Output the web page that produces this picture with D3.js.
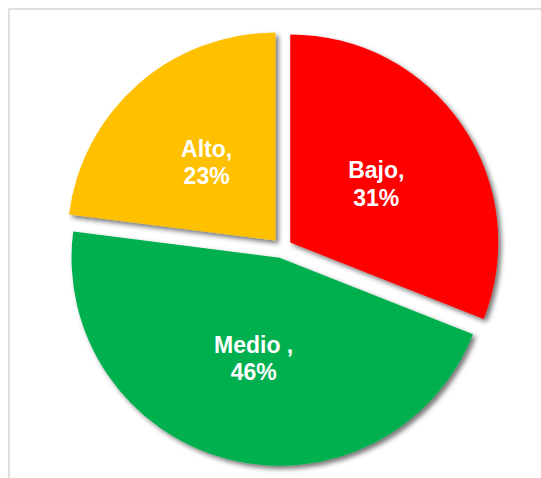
<!DOCTYPE html>
<html>
<head>
<meta charset="utf-8">
<script src="https://cdn.jsdelivr.net/npm/d3@7"></script>
<style>
  html, body { margin: 0; padding: 0; background: #ffffff; }
  svg { display: block; }
</style>
</head>
<body>
<script>
// Risk levels and their shares (%)
const categories = ["Bajo", "Medio", "Alto"];
const labelNames = ["Bajo,", "Medio ,", "Alto,"];
const values = [31, 46, 23];
const colors = ["#ff0000", "#00b050", "#ffc000"];

const width = 541, height = 478;
const cx = 282, cy = 248;      // pie centre
const radius = 208;
const explode = 10;            // distance each slice is pulled out
const fontSize = 23, lineGap = 27.5;

const svg = d3.select("body").append("svg")
  .attr("width", width)
  .attr("height", height);

// chart area frame
svg.append("rect")
  .attr("x", 9).attr("y", 9)
  .attr("width", 700).attr("height", 700)
  .attr("fill", "none")
  .attr("stroke", "#d9d9d9")
  .attr("stroke-width", 1.6);

const defs = svg.append("defs");
const shadow = defs.append("filter")
  .attr("id", "slice-shadow")
  .attr("x", "-20%").attr("y", "-20%")
  .attr("width", "140%").attr("height", "140%");
shadow.append("feDropShadow")
  .attr("dx", 3).attr("dy", 3)
  .attr("stdDeviation", 2.5)
  .attr("flood-color", "#000000")
  .attr("flood-opacity", 0.55);

const pie = d3.pie().sort(null).value(d => d.value);
const arc = d3.arc().innerRadius(0).outerRadius(radius);

const data = categories.map((c, i) => ({
  name: c, label: labelNames[i], value: values[i], color: colors[i]
}));
const arcs = pie(data);

const g = svg.append("g").attr("transform", `translate(${cx},${cy})`);

const slices = g.selectAll("g.slice")
  .data(arcs)
  .join("g")
  .attr("class", "slice")
  .attr("transform", d => {
    const mid = (d.startAngle + d.endAngle) / 2;
    return `translate(${explode * Math.sin(mid)},${-explode * Math.cos(mid)})`;
  });

slices.append("path")
  .attr("d", arc)
  .attr("fill", d => d.data.color)
  .attr("filter", "url(#slice-shadow)");

slices.each(function(d) {
  const [lx, ly] = arc.centroid(d);
  const t = d3.select(this).append("text")
    .attr("text-anchor", "middle")
    .attr("fill", "#ffffff")
    .attr("font-family", "'Liberation Sans', Arial, sans-serif")
    .attr("font-weight", "bold")
    .attr("font-size", fontSize);
  const capH = fontSize * 0.716;
  const b1 = ly + capH / 2 - lineGap / 2;
  t.append("tspan").attr("x", lx).attr("y", b1).text(d.data.label);
  t.append("tspan").attr("x", lx).attr("y", b1 + lineGap).text(d.data.value + "%");
});
</script>
</body>
</html>
